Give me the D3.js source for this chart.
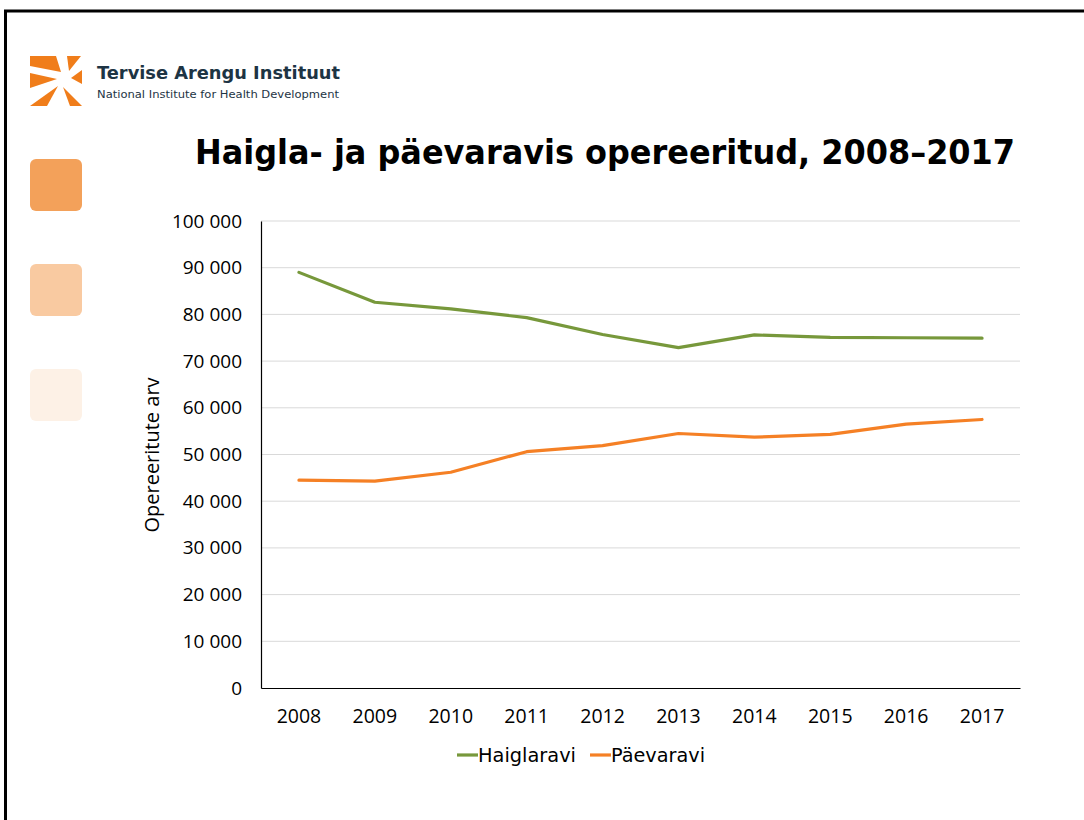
<!DOCTYPE html>
<html>
<head>
<meta charset="utf-8">
<script src="https://cdn.jsdelivr.net/npm/d3@7/dist/d3.min.js"></script>
<style>
  html, body { margin: 0; padding: 0; background: #fff; overflow: hidden; }
  svg { display: block; }
</style>
</head>
<body>
<svg id="canvas" width="1084" height="820"></svg>
<script>
// Chart data
let years = ["2008", "2009", "2010", "2011", "2012", "2013", "2014", "2015", "2016", "2017"];
let haiglaravi = [89000, 82600, 81200, 79300, 75700, 72900, 75600, 75100, 75000, 74900];
let paevaravi = [44500, 44300, 46200, 50600, 51900, 54500, 53700, 54300, 56500, 57500];
let yTicks = [0, 10000, 20000, 30000, 40000, 50000, 60000, 70000, 80000, 90000, 100000];
let seriesNames = ["Haiglaravi", "Päevaravi"];
let seriesColors = ["#77983b", "#f58025"];
let sideColors = ["#f3a15a", "#f9caa1", "#fdf1e6"];

let canvas = d3.select("#canvas");

// Slide frame
canvas.append("rect")
    .attr("x", 5.5).attr("y", 11)
    .attr("width", 1100).attr("height", 830)
    .attr("fill", "none")
    .attr("stroke", "#000")
    .attr("stroke-width", 3);

// Logo
let logo = canvas.append("g").attr("fill", "#f07d1a");
let logoShapes = [
    [[30, 56], [56, 56], [61, 72], [30, 66]],
    [[30, 73], [57, 79], [30, 88]],
    [[30, 106], [47, 106], [58, 86]],
    [[63, 87], [70, 106], [82, 106]],
    [[67, 56], [81, 56], [69, 71]],
    [[71, 78], [82, 70], [82, 84]]
];
logo.selectAll("polygon")
    .data(logoShapes)
    .enter()
    .append("polygon")
    .attr("points", d => d.map(p => p.join(",")).join(" "));

canvas.append("text")
    .attr("x", 97).attr("y", 79)
    .attr("font-family", "'DejaVu Sans'")
    .attr("font-weight", "bold")
    .attr("font-size", 18)
    .attr("fill", "#1d3444")
    .attr("textLength", 243)
    .attr("lengthAdjust", "spacingAndGlyphs")
    .text("Tervise Arengu Instituut");
canvas.append("text")
    .attr("x", 97).attr("y", 98)
    .attr("font-family", "'DejaVu Sans'")
    .attr("font-size", 10.5)
    .attr("fill", "#1d3444")
    .attr("textLength", 242)
    .attr("lengthAdjust", "spacingAndGlyphs")
    .text("National Institute for Health Development");

// Side squares
canvas.append("g")
    .selectAll("rect")
    .data(sideColors)
    .enter()
    .append("rect")
    .attr("x", 30)
    .attr("y", (d, i) => 159 + i * 105)
    .attr("width", 52).attr("height", 52)
    .attr("rx", 6)
    .attr("fill", d => d);

// Title
canvas.append("text")
    .attr("x", 195).attr("y", 164)
    .attr("font-family", "'DejaVu Sans'")
    .attr("font-weight", "bold")
    .attr("font-size", 34)
    .attr("fill", "#000")
    .attr("textLength", 820)
    .attr("lengthAdjust", "spacingAndGlyphs")
    .text("Haigla- ja päevaravis opereeritud, 2008–2017");

// Plot area
let plot = { left: 261, right: 1020, top: 221, bottom: 688 };

let x = d3.scaleBand()
    .domain(years)
    .range([plot.left, plot.right]);

let y = d3.scaleLinear()
    .domain([0, 100000])
    .range([plot.bottom, plot.top]);

let fmt = v => d3.format(",")(v).replace(/,/g, " ");

// Gridlines
canvas.append("g")
    .selectAll("line")
    .data(yTicks.slice(1))
    .enter()
    .append("line")
    .attr("x1", plot.left).attr("x2", plot.right)
    .attr("y1", d => y(d)).attr("y2", d => y(d))
    .attr("stroke", "#d9d9d9")
    .attr("stroke-width", 1);

// Y axis
let yAxis = canvas.append("g")
    .attr("transform", `translate(${plot.left},0)`)
    .call(d3.axisLeft(y).tickValues(yTicks).tickFormat(fmt).tickSize(0).tickPadding(19));
yAxis.select(".domain").attr("stroke", "#000").attr("stroke-width", 1.2);
yAxis.selectAll("text")
    .attr("font-family", "'Open Sans'")
    .attr("font-size", 19)
    .attr("fill", "#000");

// X axis
let xAxis = canvas.append("g")
    .attr("transform", `translate(0,${plot.bottom})`)
    .call(d3.axisBottom(x).tickSize(0).tickPadding(21));
xAxis.select(".domain").attr("stroke", "#000").attr("stroke-width", 1.2);
xAxis.selectAll("text")
    .attr("font-family", "'Open Sans'")
    .attr("font-size", 19.5)
    .attr("fill", "#000");

// Y axis title
canvas.append("text")
    .attr("transform", "translate(159,455) rotate(-90)")
    .attr("text-anchor", "middle")
    .attr("font-family", "'Open Sans'")
    .attr("font-size", 20)
    .attr("fill", "#000")
    .text("Opereeritute arv");

// Lines
let line = d3.line()
    .x((d, i) => x(years[i]) + x.bandwidth() / 2)
    .y(d => y(d));

canvas.append("g")
    .selectAll("path")
    .data([haiglaravi, paevaravi])
    .enter()
    .append("path")
    .attr("d", line)
    .attr("fill", "none")
    .attr("stroke", (d, i) => seriesColors[i])
    .attr("stroke-width", 3.2)
    .attr("stroke-linejoin", "round")
    .attr("stroke-linecap", "round");

// Legend
let legendX = [457, 590];
let legend = canvas.append("g")
    .selectAll("g")
    .data(seriesNames)
    .enter()
    .append("g")
    .attr("transform", (d, i) => `translate(${legendX[i]},755)`);
legend.append("line")
    .attr("x1", 0).attr("x2", 21)
    .attr("stroke", (d, i) => seriesColors[i])
    .attr("stroke-width", 3.2);
legend.append("text")
    .attr("x", 21).attr("y", 7)
    .attr("font-family", "'DejaVu Sans'")
    .attr("font-size", 19)
    .attr("fill", "#000")
    .attr("textLength", (d, i) => [98, 94][i])
    .attr("lengthAdjust", "spacingAndGlyphs")
    .text(d => d);
</script>
</body>
</html>
